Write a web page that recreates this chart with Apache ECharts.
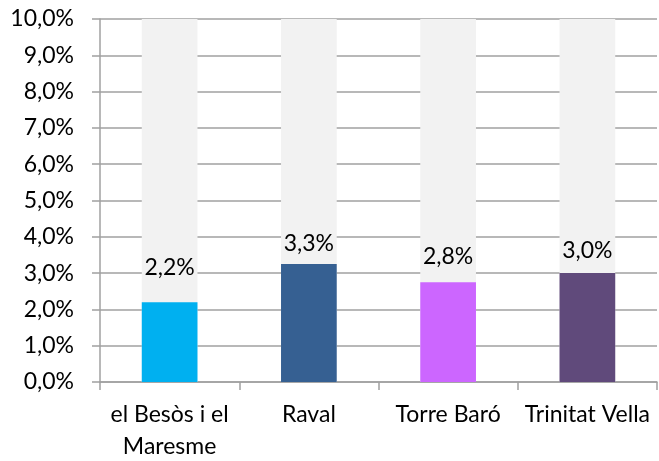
<!DOCTYPE html>
<html><head><meta charset="utf-8">
<script src="https://cdn.jsdelivr.net/npm/echarts@6/dist/echarts.min.js"></script>
<style>html,body{margin:0;padding:0;background:#fff}#c{width:659px;height:461px}</style>
</head><body><div id="c"></div>
<script>
const categories = ['el Besòs i el\nMaresme', 'Raval', 'Torre Baró', 'Trinitat Vella'];
const values = [2.2, 3.25, 2.75, 3.0];
const barColors = ['#00B0F0', '#366092', '#CC66FF', '#604A7B'];
const labelDistances = [23, 9, 14, 11];
const yMin = 0, yMax = 10, yInterval = 1;

const fmt = v => v.toFixed(1).replace('.', ',') + '%';
const font = 'Lato';
const fs = 23;
const chart = echarts.init(document.getElementById('c'), null, {renderer: 'canvas'});
chart.setOption({
  animation: false,
  grid: {left: 100, right: 2, top: 19, bottom: 79, containLabel: false, outerBoundsMode: 'none'},
  xAxis: {
    type: 'category', data: categories,
    axisLine: {lineStyle: {color: '#a0a0a0', width: 1.5}},
    axisTick: {show: true, length: 8, alignWithLabel: false, lineStyle: {color: '#a0a0a0', width: 1.5}},
    axisLabel: {color: '#000', fontFamily: font, fontSize: fs, margin: 17, lineHeight: 32, interval: 0, hideOverlap: false}
  },
  yAxis: {
    type: 'value', min: yMin, max: yMax, interval: yInterval,
    axisLine: {show: true, lineStyle: {color: '#a0a0a0', width: 1.5}},
    axisTick: {show: true, length: 8, lineStyle: {color: '#a0a0a0', width: 1.5}},
    splitLine: {lineStyle: {color: '#a0a0a0', width: 1.5}},
    axisLabel: {color: '#000', fontFamily: font, fontSize: fs, margin: 26, formatter: v => fmt(v)}
  },
  series: [{
    type: 'bar',
    barWidth: '40%',
    showBackground: true,
    backgroundStyle: {color: '#f2f2f2'},
    data: values.map((v, i) => ({
      value: v,
      itemStyle: {color: barColors[i]},
      label: {distance: labelDistances[i]}
    })),
    label: {show: true, position: 'top', color: '#000', fontFamily: font, fontSize: fs, formatter: p => fmt(p.value)}
  }]
});
</script></body></html>
